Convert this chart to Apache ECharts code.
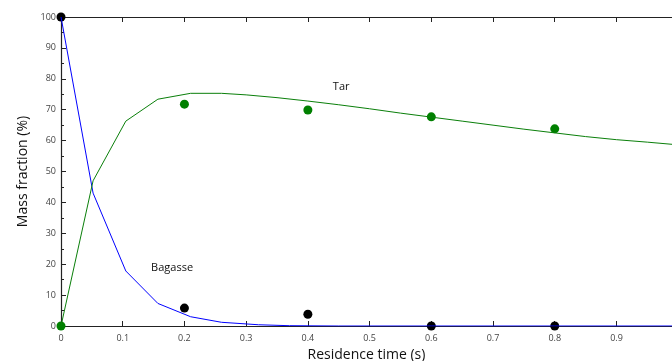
<!DOCTYPE html>
<html>
<head>
<meta charset="utf-8">
<script src="https://cdn.jsdelivr.net/npm/echarts@6/dist/echarts.min.js"></script>
<style>
  html, body { margin: 0; padding: 0; background: #fff; }
  #chart { width: 672px; height: 361px; }
</style>
</head>
<body>
<div id="chart"></div>
<script>
// model curves (residence time s, mass fraction %)
const bagasseModel = [
  [0, 100], [0.052, 43], [0.105, 17.8], [0.157, 7.3], [0.21, 3.0],
  [0.26, 1.2], [0.32, 0.4], [0.37, 0.1], [0.45, 0], [0.6, 0], [0.8, 0], [0.99, 0]
]
const tarModel = [
  [0, 0], [0.052, 47], [0.105, 66.3], [0.157, 73.4], [0.21, 75.3], [0.26, 75.3],
  [0.3, 74.8], [0.35, 73.9], [0.4, 72.8], [0.45, 71.6], [0.5, 70.3], [0.55, 68.9],
  [0.6, 67.6], [0.65, 66.3], [0.7, 65.0], [0.75, 63.7], [0.8, 62.5], [0.85, 61.3],
  [0.9, 60.3], [0.95, 59.5], [0.99, 58.8]
]
// experimental points
const bagasseExp = [[0, 100], [0.2, 5.8], [0.4, 3.8], [0.6, 0], [0.8, 0]]
const tarExp = [[0, 0], [0.2, 71.8], [0.4, 69.9], [0.6, 67.7], [0.8, 63.8]]

const labelFont = 'Open Sans'
const tickLabel = { fontFamily: labelFont, fontSize: 9, color: '#444' }

const chart = echarts.init(document.getElementById('chart'))

chart.setOption({
  animation: false,
  grid: { left: 61, right: 0, top: 17, bottom: 35, outerBoundsMode: 'none', containLabel: false },
  xAxis: [{
    type: 'value', min: 0, max: 0.99, interval: 0.1, position: 'bottom',
    name: 'Residence time (s)', nameLocation: 'middle', nameGap: 19,
    nameTextStyle: { fontFamily: labelFont, fontSize: 14, color: '#111' },
    axisLine: { lineStyle: { color: '#222', width: 1.2 } },
    axisTick: { inside: true, length: 5, lineStyle: { color: '#222' } },
    axisLabel: Object.assign({ margin: 8, showMaxLabel: false }, tickLabel),
    splitLine: { show: false }
  }, {
    type: 'value', min: 0, max: 0.99, interval: 0.1, position: 'top',
    axisLine: { lineStyle: { color: '#222', width: 1.2 } },
    axisTick: { inside: true, length: 5, lineStyle: { color: '#222' } },
    axisLabel: { show: false },
    splitLine: { show: false }
  }],
  yAxis: {
    type: 'value', min: 0, max: 100, interval: 10,
    name: 'Mass fraction (%)', nameLocation: 'middle', nameGap: 27,
    nameTextStyle: { fontFamily: labelFont, fontSize: 14, color: '#111' },
    axisLine: { show: true, lineStyle: { color: '#222', width: 1.2 } },
    axisTick: { inside: true, length: 5, lineStyle: { color: '#222' } },
    minorTick: { show: true, splitNumber: 2, length: 3, lineStyle: { color: '#222' } },
    axisLabel: Object.assign({ margin: 5 }, tickLabel),
    splitLine: { show: false }
  },
  series: [{
    name: 'Bagasse model', type: 'line', data: bagasseModel, showSymbol: false,
    lineStyle: { color: '#0000ff', width: 1 },
    markPoint: {
      symbol: 'circle', symbolSize: 0,
      label: { show: true, formatter: 'Bagasse', fontFamily: labelFont, fontSize: 11, color: '#111' },
      data: [{ coord: [0.18, 18.8] }]
    }
  }, {
    name: 'Tar model', type: 'line', data: tarModel, showSymbol: false,
    lineStyle: { color: '#0a7f0a', width: 1 },
    markPoint: {
      symbol: 'circle', symbolSize: 0,
      label: { show: true, formatter: 'Tar', fontFamily: labelFont, fontSize: 11, color: '#111' },
      data: [{ coord: [0.454, 77.3] }]
    }
  }, {
    name: 'Tar exp', type: 'scatter', data: tarExp, symbolSize: 9, clip: false,
    itemStyle: { color: '#008000', opacity: 1 }
  }, {
    name: 'Bagasse exp', type: 'scatter', data: bagasseExp, symbolSize: 9, clip: false,
    itemStyle: { color: '#000', opacity: 1 }
  }]
})
</script>
</body>
</html>
